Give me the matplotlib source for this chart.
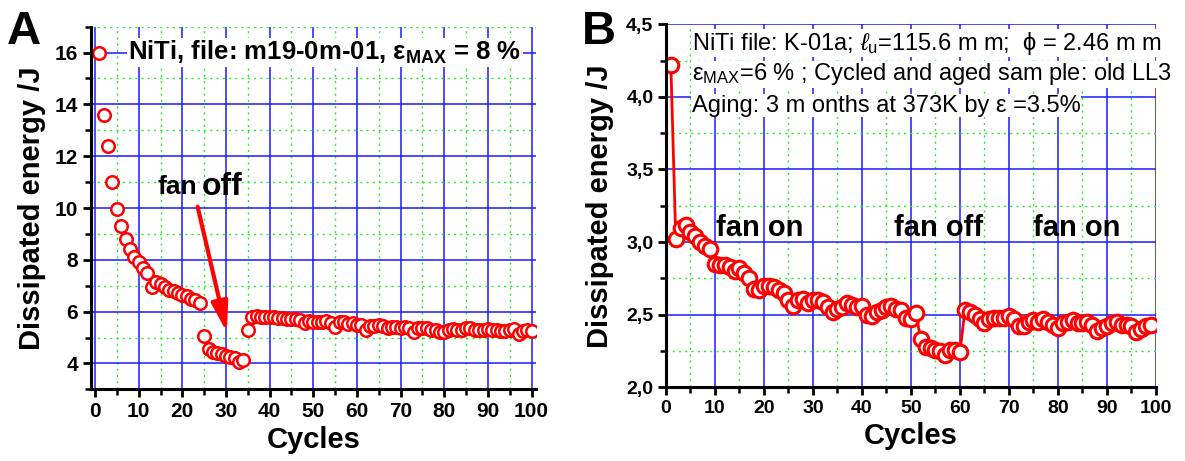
import numpy as np
import matplotlib
matplotlib.use("Agg")
import matplotlib.pyplot as plt
from matplotlib.ticker import MultipleLocator, FuncFormatter

plt.rcParams['font.family'] = ['Liberation Sans', 'DejaVu Sans']
plt.rcParams['mathtext.fontset'] = 'custom'
plt.rcParams['mathtext.rm'] = 'Liberation Sans'
plt.rcParams['mathtext.it'] = 'Liberation Sans:italic'
plt.rcParams['mathtext.bf'] = 'Liberation Sans:bold'

# panel A: dissipated energy per cycle, m19-0m-01
cycles_a = np.arange(1, 101)
energy_a = [16.0, 13.6, 12.4, 11.0, 9.95, 9.3, 8.8, 8.4, 8.1, 7.9,
            7.7, 7.5, 6.95, 7.15, 7.05, 6.95, 6.85, 6.8, 6.7, 6.65,
            6.6, 6.5, 6.45, 6.35, 5.05, 4.55, 4.45, 4.4, 4.35, 4.3,
            4.25, 4.2, 4.05, 4.15, 5.3, 5.8, 5.82, 5.8, 5.8, 5.78,
            5.78, 5.75, 5.75, 5.72, 5.7, 5.7, 5.68, 5.55, 5.65, 5.6,
            5.58, 5.6, 5.62, 5.55, 5.4, 5.6, 5.58, 5.52, 5.55, 5.5,
            5.48, 5.3, 5.45, 5.45, 5.5, 5.45, 5.35, 5.42, 5.4, 5.38,
            5.4, 5.38, 5.22, 5.35, 5.38, 5.35, 5.3, 5.3, 5.22, 5.2,
            5.28, 5.32, 5.3, 5.3, 5.38, 5.35, 5.3, 5.28, 5.3, 5.32,
            5.3, 5.28, 5.25, 5.25, 5.28, 5.32, 5.15, 5.25, 5.28, 5.25]

# panel B: K-01a, cycled and aged sample
cycles_b = np.arange(1, 100)
energy_b = [4.22, 3.02, 3.10, 3.12, 3.07, 3.04, 3.00, 2.97, 2.95, 2.85,
            2.84, 2.84, 2.83, 2.80, 2.82, 2.79, 2.75, 2.68, 2.67, 2.70,
            2.70, 2.69, 2.67, 2.65, 2.60, 2.56, 2.60, 2.61, 2.58, 2.60,
            2.60, 2.59, 2.55, 2.52, 2.54, 2.55, 2.58, 2.57, 2.55, 2.56,
            2.50, 2.49, 2.52, 2.53, 2.55, 2.56, 2.54, 2.53, 2.48, 2.47,
            2.51, 2.33, 2.28, 2.27, 2.26, 2.25, 2.22, 2.26, 2.26, 2.24,
            2.53, 2.52, 2.50, 2.47, 2.44, 2.47, 2.48, 2.48, 2.48, 2.49,
            2.47, 2.42, 2.42, 2.45, 2.46, 2.45, 2.47, 2.45, 2.43, 2.41,
            2.44, 2.45, 2.46, 2.44, 2.44, 2.45, 2.43, 2.39, 2.41, 2.42,
            2.44, 2.45, 2.43, 2.43, 2.42, 2.38, 2.40, 2.42, 2.43]

fan_labels_b = ["fan on", "fan off", "fan on"]
fan_x_b = [19.2, 55.7, 83.9]

fig = plt.figure(figsize=(11.85, 4.61), dpi=100)
axA = fig.add_axes([0.0765, 0.1555, 0.3758, 0.7866])
axB = fig.add_axes([0.5620, 0.1599, 0.4135, 0.7874])


def style_axes(ax, tick_size):
    for s in ['top', 'right']:
        ax.spines[s].set_visible(False)
    for s in ['left', 'bottom']:
        ax.spines[s].set_linewidth(2.2)
    ax.tick_params(which='major', direction='out', length=6, width=2,
                   labelsize=tick_size, pad=3)
    ax.tick_params(which='minor', direction='out', length=4, width=1.8)
    ax.grid(which='major', color='#1a1aff', lw=1.1, ls='-')
    ax.grid(which='minor', color='#22ee22', lw=1.0, ls=(0, (1.5, 3)))
    ax.set_axisbelow(True)
    for lab in ax.get_xticklabels() + ax.get_yticklabels():
        lab.set_fontweight('bold')


# ---- A ----
axA.plot(cycles_a, energy_a, 'o', mfc='white', mec='red', ms=9, mew=1.8)
axA.set_xlim(-1, 101)
axA.set_ylim(3, 17)
axA.xaxis.set_major_locator(MultipleLocator(10))
axA.xaxis.set_minor_locator(MultipleLocator(5))
axA.yaxis.set_major_locator(MultipleLocator(2))
axA.yaxis.set_minor_locator(MultipleLocator(1))
axA.set_yticks([4, 6, 8, 10, 12, 14, 16])
style_axes(axA, 15)
axA.set_xlabel("Cycles", fontsize=21, fontweight='bold', labelpad=4)
axA.set_ylabel("Dissipated energy /J", fontsize=21, fontweight='bold', labelpad=6)
axA.text(7.6, 16, r"NiTi, file: m19-0m-01, ε$_{\mathbf{MAX}}$ = 8 %",
         fontsize=18.5, fontweight='bold', va='center', ha='left',
         bbox=dict(facecolor='white', edgecolor='none', pad=1))
axA.text(14.4, 10.8, "fan", fontsize=19, fontweight='bold', va='center', ha='left')
axA.text(24.5, 10.8, "off", fontsize=23, fontweight='bold', va='center', ha='left')
axA.annotate("", xy=(30.2, 5.2), xytext=(23.5, 10.05),
             arrowprops=dict(arrowstyle='-|>,head_length=0.9,head_width=0.25',
                             color='red', lw=3, mutation_scale=20, shrinkA=0, shrinkB=0))
fig.text(0.006, 0.905, "A", fontsize=34, fontweight='bold', ha='left', va='baseline')

# ---- B ----
axB.plot(cycles_b, energy_b, '-o', color='red', mfc='white', mec='red',
         ms=10.5, mew=2.2, lw=2)
axB.set_xlim(0, 100)
axB.set_ylim(2.0, 4.5)
axB.xaxis.set_major_locator(MultipleLocator(10))
axB.xaxis.set_minor_locator(MultipleLocator(5))
axB.yaxis.set_major_locator(MultipleLocator(0.5))
axB.yaxis.set_minor_locator(MultipleLocator(0.25))
axB.yaxis.set_major_formatter(FuncFormatter(lambda v, p: f"{v:.1f}".replace('.', ',')))
style_axes(axB, 14)
axB.set_xlabel("Cycles", fontsize=21, fontweight='bold', labelpad=4)
axB.set_ylabel("Dissipated energy /J", fontsize=21, fontweight='bold', labelpad=9)
box = dict(facecolor='white', edgecolor='none', pad=0.5)
axB.text(5.3, 4.37, r"NiTi file: K-01a; $\ell_{\rm u}$=115.6 m m;  ϕ = 2.46 m m",
         fontsize=17, va='center', ha='left', bbox=box, clip_on=False)
axB.text(5.3, 4.155, r"ε$_{\rm MAX}$=6 % ; Cycled and aged sam ple: old LL3",
         fontsize=17, va='center', ha='left', bbox=box, clip_on=False)
axB.text(5.3, 3.94, "Aging: 3 m onths at 373K by ε =3.5%",
         fontsize=17, va='center', ha='left', bbox=box)
for lab, xv in zip(fan_labels_b, fan_x_b):
    axB.text(xv, 3.10, lab, fontsize=21, fontweight='bold', ha='center', va='center')
fig.text(0.491, 0.905, "B", fontsize=34, fontweight='bold', ha='left', va='baseline')

fig.savefig("out.png", dpi=100)
